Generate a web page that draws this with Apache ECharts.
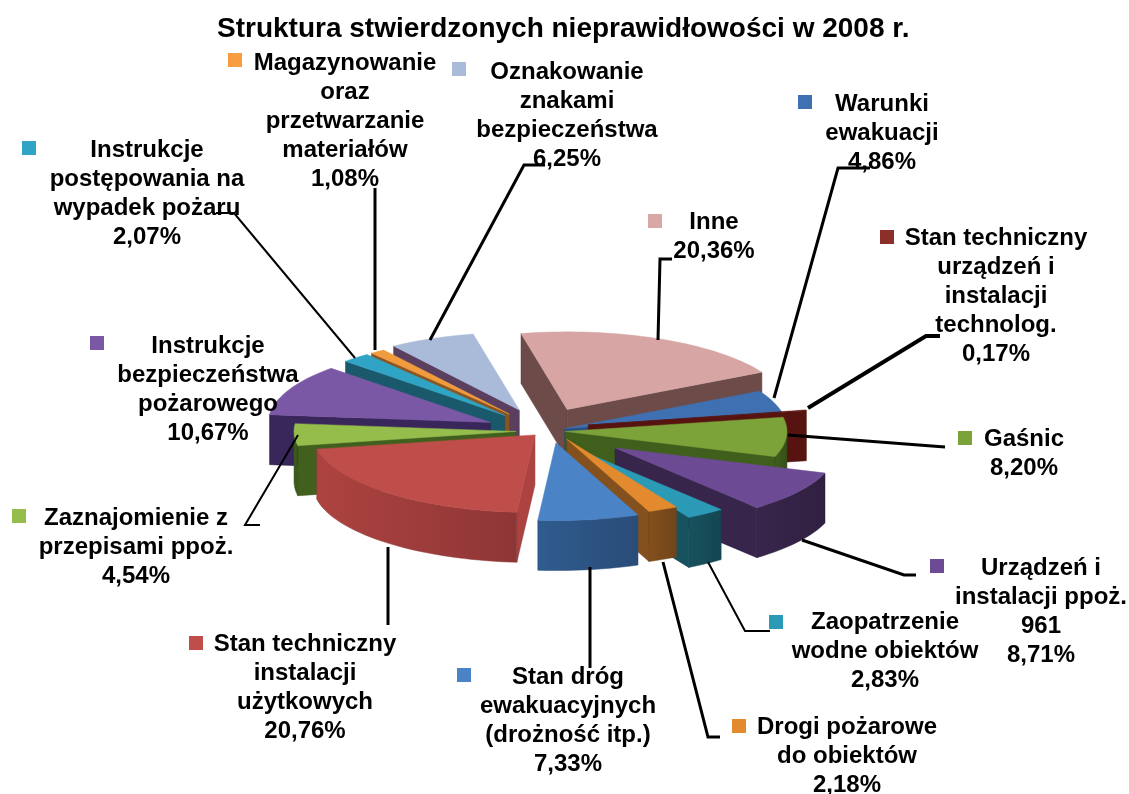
<!DOCTYPE html>
<html>
<head>
<meta charset="utf-8">
<title>Struktura stwierdzonych nieprawidłowości</title>
<script src="https://cdn.jsdelivr.net/npm/echarts@6/dist/echarts.min.js"></script>
<style>
  html, body { margin: 0; padding: 0; background: #fff; }
  #chart { width: 1129px; height: 794px; }
</style>
</head>
<body>
<div id="chart"></div>
<script>
// data, clockwise from the first slice
const categories = [
  'Inne',
  'Warunki\newakuacji',
  'Stan techniczny\nurządzeń i\ninstalacji\ntechnolog.',
  'Gaśnic',
  'Urządzeń i\ninstalacji ppoż.\n961',
  'Zaopatrzenie\nwodne obiektów',
  'Drogi pożarowe\ndo obiektów',
  'Stan dróg\newakuacyjnych\n(drożność itp.)',
  'Stan techniczny\ninstalacji\nużytkowych',
  'Zaznajomienie z\nprzepisami ppoż.',
  'Instrukcje\nbezpieczeństwa\npożarowego',
  'Instrukcje\npostępowania na\nwypadek pożaru',
  'Magazynowanie\noraz\nprzetwarzanie\nmateriałów',
  'Oznakowanie\nznakami\nbezpieczeństwa'
];
const shares = [20.36, 4.86, 0.17, 8.20, 8.71, 2.83, 2.18, 7.33, 20.76, 4.54, 10.67, 2.07, 1.08, 6.25];

// styles
const topColors = ['#d6a5a4', '#3f70b2', '#5c1510', '#7ba33a', '#6c4a94', '#2b9ab6', '#e48a2e', '#4a83c6', '#bf4d49', '#95bd4c', '#7b58a5', '#30a4c4', '#f09b3d', '#aabbd9'];
const wallColors = ['#6c4b48', '#2c4f80', '#57130f', '#405f1c', '#38254c', '#17525f', '#84501e', '#2f5c8e', '#ad4340', '#41601e', '#39265a', '#1a586c', '#8a5520', '#5b3f5e'];
const wallDark = ['#5c403d', '#264470', '#4a100c', '#364f18', '#302040', '#134650', '#70441a', '#2a4c78', '#8e3636', '#36501a', '#30204c', '#164a5c', '#75481b', '#4d3550'];
const keyColors = ['#d9a8a6', '#3f70b2', '#8c2f2b', '#7ba33a', '#6c4a94', '#2b9ab6', '#e48a2e', '#4a83c6', '#bf4d49', '#95bd4c', '#7b58a5', '#30a4c4', '#f79d40', '#aabbd9'];

// pie geometry
const cx = 545, cy = 431, radius = 222, squash = 0.35, depth = 50, startAngle = -12;
const explode = [58, 21, 45, 20, 85, 62, 39, 40, 15, 29, 58, 60, 60, 65];
// small per slice shift, the original has some perspective
const nudge = [[-2, -3], [0, 0], [-1, -3], [0, 0], [0, 0], [-1, 1], [5, -4], [5, -2], [0, 0], [0, 0], [-2, 0], [0, 0], [0, 0], [0, 0]];

// label layout: centre x, first line y, key square x, y
const labelPos = [
  [714, 208, 648, 214],
  [882, 90, 798, 95],
  [996, 224, 880, 230],
  [1024, 425, 958, 431],
  [1041, 554, 930, 559],
  [885, 608, 769, 615],
  [847, 713, 732, 719],
  [568, 663, 457, 668],
  [305, 630, 189, 636],
  [136, 504, 12, 509],
  [208, 332, 90, 336],
  [147, 136, 22, 141],
  [345, 49, 228, 53],
  [567, 58, 452, 62]
];
const lineHeight = 29;

// leader lines: width, then the path
const leaders = [
  [3, [[672, 259], [660, 259], [658, 340]]],
  [3, [[870, 168], [838, 168], [774, 398]]],
  [4, [[940, 336], [926, 336], [808, 408]]],
  [3, [[945, 447], [788, 435]]],
  [3, [[916, 575], [904, 575], [802, 540]]],
  [2, [[770, 631], [745, 631], [708, 562]]],
  [3, [[720, 737], [708, 737], [663, 562]]],
  [3, [[590, 668], [590, 567]]],
  [3, [[388, 625], [388, 547]]],
  [2, [[260, 525], [245, 525], [298, 435]]],
  null,
  [2, [[216, 213], [234, 213], [355, 358]]],
  [3, [[375, 188], [375, 350]]],
  [3, [[545, 165], [524, 165], [430, 340]]]
];

const rad = function (a) { return a * Math.PI / 180; };

// start and end angle of every slice
const total = shares.reduce(function (a, b) { return a + b; }, 0);
const angles = [];
shares.reduce(function (acc, v) {
  const next = acc + v / total * 360;
  angles.push([acc, next]);
  return next;
}, startAngle);

// back slices first
const depthRank = [];
shares.map(function (v, i) { return i; })
  .sort(function (a, b) {
    const ma = (angles[a][0] + angles[a][1]) / 2;
    const mb = (angles[b][0] + angles[b][1]) / 2;
    return Math.cos(rad(mb)) - Math.cos(rad(ma));
  })
  .forEach(function (idx, rank) { depthRank[idx] = rank; });

function arcPoints (tip, a0, a1) {
  const pts = [];
  const steps = Math.max(1, Math.ceil((a1 - a0) / 2));
  for (let s = 0; s <= steps; s++) {
    const a = rad(a0 + (a1 - a0) * s / steps);
    pts.push([tip[0] + radius * Math.sin(a), tip[1] - radius * squash * Math.cos(a)]);
  }
  return pts;
}

function down (pts) {
  return pts.map(function (p) { return [p[0], p[1] + depth]; }).reverse();
}

function renderSlice (params) {
  const i = params.dataIndex;
  const a0 = angles[i][0], a1 = angles[i][1];
  const mid = rad((a0 + a1) / 2);
  const tip = [
    cx + explode[i] * Math.sin(mid) + nudge[i][0],
    cy - explode[i] * squash * Math.cos(mid) + nudge[i][1]
  ];
  const arc = arcPoints(tip, a0, a1);
  const z = depthRank[i] * 10;
  const children = [];
  const wall = function (points, order, fill) {
    children.push({
      type: 'polygon',
      z2: z + order,
      shape: {points: points},
      style: {fill: fill || wallColors[i], stroke: wallDark[i], lineWidth: 0.5}
    });
  };

  // cut faces, only those turned to the viewer
  if (Math.sin(rad(a0)) < 0) {
    const edge = [tip, arc[0]];
    wall(edge.concat(down(edge)), 1);
  }
  if (Math.sin(rad(a1)) > 0) {
    const edge = [tip, arc[arc.length - 1]];
    wall(edge.concat(down(edge)), 1);
  }

  // outer wall, front half only, darker towards the right
  const w0 = Math.max(a0, 90), w1 = Math.min(a1, 270);
  if (w1 > w0) {
    const rim = arcPoints(tip, w0, w1);
    wall(rim.concat(down(rim)), 2, new echarts.graphic.LinearGradient(0, 0, 1, 0, [
      {offset: 0, color: wallColors[i]},
      {offset: 1, color: wallDark[i]}
    ]));
  }

  children.push({
    type: 'polygon',
    z2: z + 3,
    shape: {points: [tip].concat(arc)},
    style: {fill: topColors[i], stroke: topColors[i], lineWidth: 0.5}
  });

  // label, key and leader
  const pos = labelPos[i];
  const share = shares[i].toFixed(2).replace('.', ',') + '%';
  children.push({
    type: 'rect',
    z2: 500,
    shape: {x: pos[2], y: pos[3], width: 14, height: 14},
    style: {fill: keyColors[i]}
  });
  children.push({
    type: 'text',
    z2: 500,
    style: {
      text: categories[i] + '\n' + share,
      x: pos[0],
      y: pos[1],
      align: 'center',
      verticalAlign: 'top',
      lineHeight: lineHeight,
      font: 'bold 24px "Liberation Sans", Arial, sans-serif',
      fill: '#000'
    }
  });
  if (leaders[i]) {
    children.push({
      type: 'polyline',
      z2: 400,
      shape: {points: leaders[i][1]},
      style: {stroke: '#000', lineWidth: leaders[i][0], fill: 'none'}
    });
  }
  return {type: 'group', children: children};
}

const myChart = echarts.init(document.getElementById('chart'), null, {renderer: 'canvas'});
myChart.setOption({
  animation: false,
  backgroundColor: '#fff',
  title: {
    text: 'Struktura stwierdzonych nieprawidłowości w 2008 r.',
    left: 212,
    top: 10,
    textStyle: {
      fontFamily: '"Liberation Sans", Arial, sans-serif',
      fontWeight: 'bold',
      fontSize: 28,
      color: '#000'
    }
  },
  series: [{
    type: 'custom',
    coordinateSystem: 'none',
    clip: false,
    silent: true,
    data: shares,
    renderItem: renderSlice
  }]
});
</script>
</body>
</html>
